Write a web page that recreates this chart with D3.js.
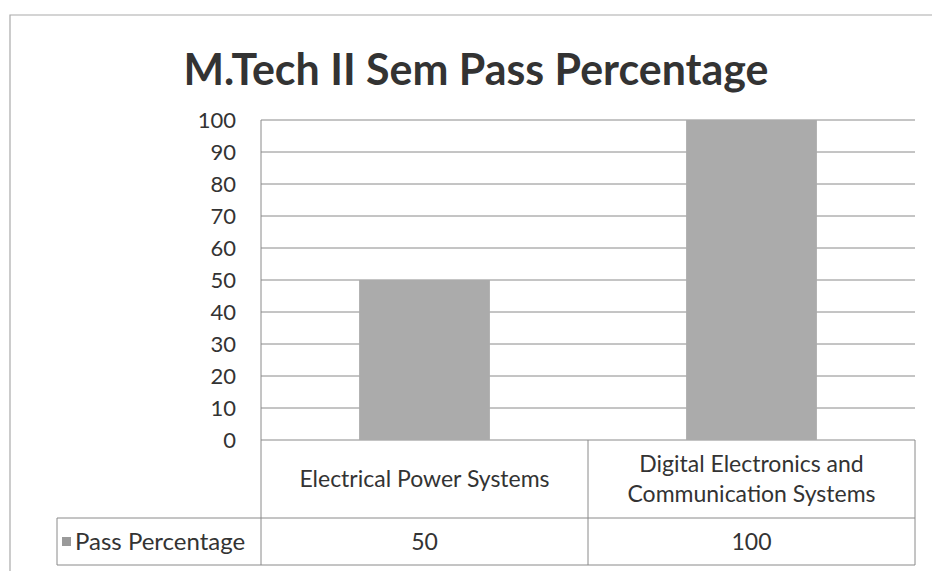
<!DOCTYPE html>
<html>
<head>
<meta charset="utf-8">
<script src="https://cdn.jsdelivr.net/npm/d3@7"></script>
<style>
  body { margin: 0; background: #fff; }
  text { font-family: Lato, "Open Sans", sans-serif; fill: #333; }
</style>
</head>
<body>
<div id="chart"></div>
<script>
// data
let categories = ["Electrical Power Systems", "Digital Electronics and Communication Systems"]
let catLines = [["Electrical Power Systems"], ["Digital Electronics and", "Communication Systems"]]
let seriesName = "Pass Percentage"
let passValues = [50, 100]
let yTicks = [0, 10, 20, 30, 40, 50, 60, 70, 80, 90, 100]

let width = 932, height = 571
let plot = {left: 261, right: 915, top: 120, bottom: 440}
let tableLeft = 57, rowMid = 518, rowBottom = 565

let svg = d3.select("#chart")
    .append("svg")
        .attr("width", width)
        .attr("height", height)

//outer chart frame
svg.append("path")
    .attr("d", `M10,${height} V15 H${width}`)
    .attr("fill", "none")
    .attr("stroke", "#aaa")
    .attr("stroke-width", 1.2)

//title
svg.append("text")
    .attr("x", 476)
    .attr("y", 85)
    .attr("text-anchor", "middle")
    .style("font-size", "43px")
    .style("font-weight", "bold")
    .attr("textLength", 585)
    .attr("lengthAdjust", "spacingAndGlyphs")
    .text("M.Tech II Sem Pass Percentage")

let y = d3.scaleLinear()
    .domain([0, 100])
    .range([plot.bottom, plot.top])

let x = d3.scaleBand()
    .domain(categories)
    .range([plot.left, plot.right])
    .paddingInner(0.6)
    .paddingOuter(0.3)

//cells of the data table, no padding
let xCell = d3.scaleBand()
    .domain(categories)
    .range([plot.left, plot.right])

//gridlines
svg.append("g")
    .selectAll("line")
    .data(yTicks)
    .join("line")
        .attr("x1", plot.left)
        .attr("x2", plot.right)
        .attr("y1", d => y(d))
        .attr("y2", d => y(d))
        .attr("stroke", "#8a8a8a")
        .attr("stroke-width", 1)

//y axis line
svg.append("line")
    .attr("x1", plot.left).attr("x2", plot.left)
    .attr("y1", plot.top).attr("y2", plot.bottom)
    .attr("stroke", "#8a8a8a")

//tick labels
svg.append("g")
    .selectAll("text")
    .data(yTicks)
    .join("text")
        .attr("x", 236)
        .attr("y", d => y(d))
        .attr("dy", "0.35em")
        .attr("text-anchor", "end")
        .style("font-size", "22px")
        .text(d => d)

//bars
svg.append("g")
    .selectAll("rect")
    .data(passValues)
    .join("rect")
        .attr("x", (d, i) => x(categories[i]))
        .attr("y", d => y(d))
        .attr("width", x.bandwidth())
        .attr("height", d => y(0) - y(d))
        .attr("fill", "#ababab")

//data table lines
let tbl = svg.append("g")
    .attr("stroke", "#8a8a8a")
    .attr("fill", "none")

tbl.append("line").attr("x1", tableLeft).attr("x2", plot.right).attr("y1", rowMid).attr("y2", rowMid)
tbl.append("line").attr("x1", tableLeft).attr("x2", plot.right).attr("y1", rowBottom).attr("y2", rowBottom)
tbl.append("line").attr("x1", tableLeft).attr("x2", tableLeft).attr("y1", rowMid).attr("y2", rowBottom)

tbl.selectAll("line.sep")
    .data(categories)
    .join("line")
        .attr("class", "sep")
        .attr("x1", d => xCell(d) + xCell.bandwidth())
        .attr("x2", d => xCell(d) + xCell.bandwidth())
        .attr("y1", plot.bottom)
        .attr("y2", rowBottom)

tbl.append("line")
    .attr("x1", plot.left).attr("x2", plot.left)
    .attr("y1", plot.bottom).attr("y2", rowBottom)

//category labels
let catText = svg.append("g")
    .selectAll("text")
    .data(categories)
    .join("text")
        .attr("text-anchor", "middle")
        .style("font-size", "23px")

catText.each(function(d, i) {
    let lines = catLines[i]
    let cx = xCell(d) + xCell.bandwidth() / 2
    let cy = (plot.bottom + rowMid) / 2
    d3.select(this).selectAll("tspan")
        .data(lines)
        .join("tspan")
            .attr("x", cx)
            .attr("y", (l, j) => cy + (j - (lines.length - 1) / 2) * 30)
            .attr("dy", "0.35em")
            .text(l => l)
})

//values row
svg.append("g")
    .selectAll("text")
    .data(passValues)
    .join("text")
        .attr("x", (d, i) => xCell(categories[i]) + xCell.bandwidth() / 2)
        .attr("y", (rowMid + rowBottom) / 2)
        .attr("dy", "0.35em")
        .attr("text-anchor", "middle")
        .style("font-size", "23px")
        .text(d => d)

//legend key + series name
svg.append("rect")
    .attr("x", 62).attr("y", 537)
    .attr("width", 9).attr("height", 9)
    .attr("fill", "#9a9a9a")

svg.append("text")
    .attr("x", 75)
    .attr("y", (rowMid + rowBottom) / 2)
    .attr("dy", "0.35em")
    .style("font-size", "24px")
    .text(seriesName)
</script>
</body>
</html>
